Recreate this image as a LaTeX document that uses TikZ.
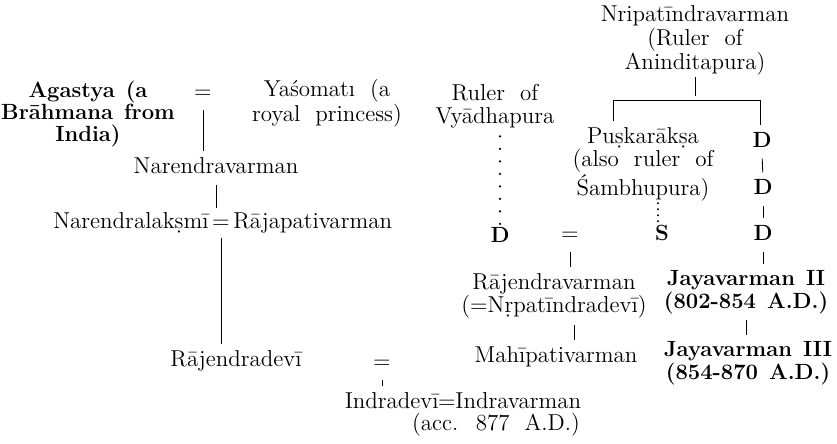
\documentclass[tikz,border=0pt]{standalone}
\begin{document}
\begin{tikzpicture}[x=0.5pt,y=-0.5pt,
  every node/.style={font=\fontsize{11.5}{11.5}\selectfont, inner sep=1pt, align=center},
  one/.style={text height=7.8pt, text depth=2.4pt},
  bnode/.style={font=\fontsize{11}{11.5}\selectfont\bfseries},
  link/.style={line width=0.45pt, shorten >=2pt, shorten <=2pt},
  bigdots/.style={line width=1.3pt, line cap=round, dash pattern=on 0pt off 6.25pt, shorten <=3pt},
  smalldots/.style={line width=1.1pt, line cap=round, dash pattern=on 0pt off 3pt}]
\useasboundingbox (0,0) rectangle (837,444);
% left family
\node[bnode, font=\fontsize{11}{11}\selectfont\bfseries] (agastya) at (88,114) {Agastya\hspace{0.5em}(a\\Brāhmana\hspace{0.5em}from\\India)};
\node[one] (eq1) at (203,93) {=};
\node (yaso) at (327,103) {Yaśomatı~ (a\\royal~ princess)};
\node[one] (naren) at (216,168) {Narendravarman};
\node[one, anchor=east] (nl) at (211,223) {Narendralakṣmī};
\node[one, inner sep=0pt] (eq2) at (221,223) {=};
\node[one, anchor=west] (rp) at (231,223) {Rājapativarman};
\node[one] (rajdevi) at (236,361) {Rājendradevī};
\node[one] (eq3) at (382,363) {=};
\node[one, anchor=east] (indradevi) at (441,403) {Indradevī};
\node[one, inner sep=0pt] (eq4) at (447,403) {=};
\node[one, anchor=west] (indrav) at (453,403) {Indravarman};
\node[one] (acc) at (496,425) {(acc.~ 877~ A.D.)};
% middle
\node (ruler) at (495,106) {Ruler~ of\\Vyādhapura};
\node[one, bnode] (D0) at (500,237) {D};
\node[one] (eq5) at (570,235) {=};
\node[one, bnode] (S) at (662,235) {S};
\node (rajvarman) at (554,296) {Rājendravarman\\(=Nṛpatīndradevī)};
\node[one] (mahi) at (556,357) {Mahīpativarman};
% right family
\node[font=\fontsize{11.5}{12}\selectfont] (nripa) at (695,40) {Nripatīndravarman\\(Ruler~ of\\Aninditapura)};
\coordinate (barL) at (613,100);
\coordinate (barR) at (760,100);
\node[font=\fontsize{11.5}{11.7}\selectfont] (pushkar) at (643,164) {Puṣkarākṣa\\(also~ ruler~ of\\Śambhupura)};
\node[one, bnode] (D1) at (762,142) {D};
\node[one, bnode] (D2) at (763,189) {D};
\node[one, bnode] (D3) at (763,235) {D};
\node[bnode, font=\fontsize{11}{10}\selectfont\bfseries] (jaya2) at (746,292) {Jayavarman\hspace{0.5em}II\\(802-854\hspace{0.5em}A.D.)};
\node[bnode, font=\fontsize{11}{10}\selectfont\bfseries] (jaya3) at (748,363) {Jayavarman\hspace{0.5em}III\\(854-870\hspace{0.5em}A.D.)};
% connectors
\draw[link] (eq1.south) -- (eq1.south |- naren.north);
\draw[link] (naren.south) -- (naren.south |- eq2.north);
\draw[link] (eq2.south) -- (eq2.south |- rajdevi.north);
\draw[link] (eq3.south) -- (eq3.south |- indradevi.north);
\draw[link, shorten <=0pt] (nripa.south) -- (nripa.south |- barL);
\draw[line width=0.4pt] (barL) -- (barR);
\draw[link, shorten <=0pt] (barL) -- (barL |- pushkar.north);
\draw[link, shorten <=0pt] (barR) -- (barR |- D1.north);
\draw[link] (D1.south) -- (D2.north);
\draw[link] (D2.south) -- (D3.north);
\draw[link] (D3.south) -- (D3.south |- jaya2.north);
\draw[link] (jaya2.south) -- (jaya2.south |- jaya3.north);
\draw[link] (eq5.south) -- (eq5.south |- rajvarman.north);
\draw[link] ([xshift=10pt]rajvarman.south) -- ([xshift=10pt]rajvarman.south |- mahi.north);
\draw[bigdots] (D0.north |- ruler.south) -- (D0.north);
\draw[smalldots] ([xshift=-2pt]S.north |- pushkar.south) -- ([xshift=-2pt]S.north);
\end{tikzpicture}
\end{document}
